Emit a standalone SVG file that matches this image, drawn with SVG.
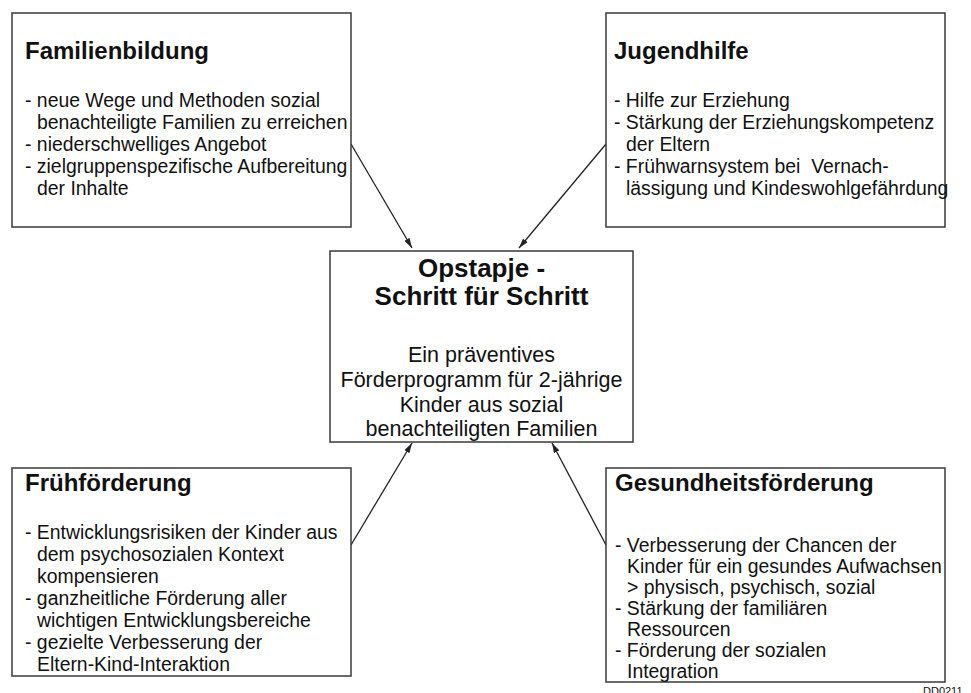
<svg xmlns="http://www.w3.org/2000/svg" width="971" height="693" viewBox="0 0 971 693">
<style>
.box{fill:#fff;stroke:#3a3a3a;stroke-width:1.5}
.t{font-family:"Liberation Sans",Arial,sans-serif;font-weight:bold;font-size:24px;fill:#111}
.b{font-family:"Liberation Sans",Arial,sans-serif;font-size:19.4px;fill:#111}
.ct{font-family:"Liberation Sans",Arial,sans-serif;font-weight:bold;font-size:26px;fill:#111;text-anchor:middle}
.cb{font-family:"Liberation Sans",Arial,sans-serif;font-size:21.5px;fill:#111;text-anchor:middle}
.c{stroke:#222;stroke-width:1.3;fill:none;marker-end:url(#ah)}
.id{font-family:"Liberation Sans",Arial,sans-serif;font-size:11px;fill:#111}
</style>
<defs>
<marker id="ah" viewBox="0 0 10 6" refX="10" refY="3" markerWidth="10" markerHeight="6" markerUnits="userSpaceOnUse" orient="auto">
<path d="M0,0 L10,3 L0,6 z" fill="#222"/>
</marker>
</defs>
<rect width="971" height="693" fill="#fff"/>
<g id="connectors">
<line class="c" x1="351" y1="144" x2="412" y2="248"/>
<line class="c" x1="606" y1="144" x2="519" y2="248"/>
<line class="c" x1="351" y1="545" x2="412" y2="443"/>
<line class="c" x1="606" y1="545" x2="552" y2="443"/>
</g>
<g id="familienbildung">
<rect class="box" x="12" y="13" width="339" height="214"/>
<text class="t" x="25" y="59">Familienbildung</text>
<text class="b" x="25" y="107">- neue Wege und Methoden sozial</text>
<text class="b" x="37" y="129">benachteiligte Familien zu erreichen</text>
<text class="b" x="25" y="151">- niederschwelliges Angebot</text>
<text class="b" x="25" y="173">- zielgruppenspezifische Aufbereitung</text>
<text class="b" x="37" y="195">der Inhalte</text>
</g>
<g id="jugendhilfe">
<rect class="box" x="606" y="13" width="339" height="214"/>
<text class="t" x="614" y="59">Jugendhilfe</text>
<text class="b" x="614" y="107">- Hilfe zur Erziehung</text>
<text class="b" x="614" y="129">- Stärkung der Erziehungskompetenz</text>
<text class="b" x="626" y="151">der Eltern</text>
<text class="b" x="614" y="173">- Frühwarnsystem bei&#160; Vernach-</text>
<text class="b" x="626" y="195">lässigung und Kindeswohlgefährdung</text>
</g>
<g id="opstapje">
<rect class="box" x="330" y="251" width="303" height="191"/>
<text class="ct" x="481.5" y="277">Opstapje -</text>
<text class="ct" x="481.5" y="305">Schritt für Schritt</text>
<text class="cb" x="481.5" y="362">Ein präventives</text>
<text class="cb" x="481.5" y="387">Förderprogramm für 2-jährige</text>
<text class="cb" x="481.5" y="412">Kinder aus sozial</text>
<text class="cb" x="481.5" y="436">benachteiligten Familien</text>
</g>
<g id="fruehfoerderung">
<rect class="box" x="12" y="468" width="339" height="208"/>
<text class="t" x="25" y="491">Frühförderung</text>
<text class="b" x="25" y="539">- Entwicklungsrisiken der Kinder aus</text>
<text class="b" x="37" y="561">dem psychosozialen Kontext</text>
<text class="b" x="37" y="583">kompensieren</text>
<text class="b" x="25" y="605">- ganzheitliche Förderung aller</text>
<text class="b" x="37" y="627">wichtigen Entwicklungsbereiche</text>
<text class="b" x="25" y="649">- gezielte Verbesserung der</text>
<text class="b" x="37" y="671">Eltern-Kind-Interaktion</text>
</g>
<g id="gesundheitsfoerderung">
<rect class="box" x="606" y="468" width="339" height="214"/>
<text class="t" x="615" y="491">Gesundheitsförderung</text>
<text class="b" x="615" y="552">- Verbesserung der Chancen der</text>
<text class="b" x="627" y="573">Kinder für ein gesundes Aufwachsen</text>
<text class="b" x="627" y="594">&gt; physisch, psychisch, sozial</text>
<text class="b" x="615" y="615">- Stärkung der familiären</text>
<text class="b" x="627" y="636">Ressourcen</text>
<text class="b" x="615" y="657">- Förderung der sozialen</text>
<text class="b" x="627" y="678">Integration</text>
</g>
<text class="id" x="923" y="695">DD0211</text>
</svg>
